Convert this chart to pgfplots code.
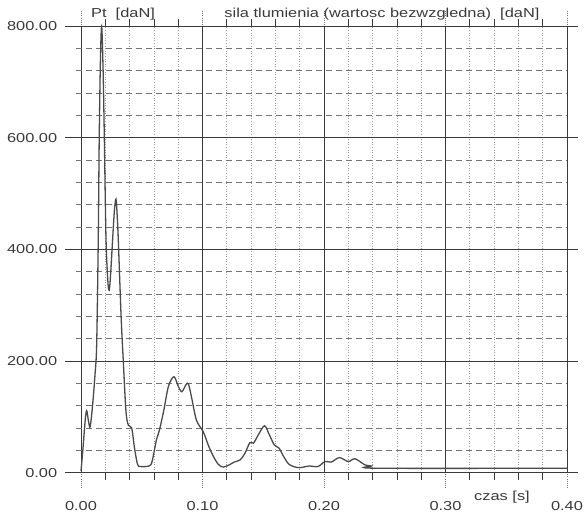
\documentclass[border=0pt]{standalone}
\usepackage{pgfplots}
\pgfplotsset{compat=1.18}
\usepackage{fontspec}
\setmainfont{Liberation Sans}
\newfontfamily\widefont[FakeStretch=1.26]{Liberation Sans}
\definecolor{ink}{HTML}{3A3A3A}
\definecolor{curve}{HTML}{4A4A4A}
\pgfplotstableread{
t v
0 3
0.0015 40
0.0035 95
0.0047 111
0.0062 92
0.0075 82
0.0095 120
0.0115 175
0.0129 230
0.0142 417
0.0150 600
0.0160 740
0.0170 800
0.0182 720
0.0192 600
0.0206 417
0.0222 340
0.0233 327
0.0245 360
0.0260 417
0.0275 470
0.0288 490
0.0298 460
0.0307 417
0.0330 280
0.0348 200
0.0370 110
0.0390 85
0.0417 80
0.0440 45
0.0465 15
0.0490 11
0.0560 12
0.0585 20
0.0620 58
0.0645 76
0.0680 110
0.0720 155
0.0765 172
0.0800 155
0.0830 145
0.0865 158
0.0884 159
0.0910 135
0.0950 94
0.1007 73
0.1050 48
0.1090 29
0.1130 15
0.1170 10
0.1220 14
0.1260 19
0.1310 23
0.1350 35
0.1390 54
0.1420 53
0.1460 68
0.1510 84
0.1550 68
0.1590 50
0.1630 44
0.1665 30
0.1707 16
0.1750 11
0.1800 9
0.1880 12
0.1950 11
0.2008 20
0.2060 19
0.2126 27
0.2200 20
0.2255 25
0.2337 14
0.2390 12
0.2434 8
0.4000 8
}\dataPt
\begin{document}
\begin{tikzpicture}
\path[use as bounding box] (-76pt,-43.3pt) rectangle (508pt,472.7pt);
\begin{axis}[
  scale only axis, width=491pt, height=446.7pt,
  xmin=-0.00412, xmax=0.4, ymin=0, ymax=800,
  axis line style={draw=none},
  xtick={0,0.1,0.2,0.3,0.4}, ytick={0,200,400,600,800},
  minor x tick num=4, minor y tick num=4,
  grid=both,
  major grid style={solid, line width=0.8pt, draw=ink},
  minor grid style={dash pattern=on 6pt off 4pt, line width=0.6pt, draw=black!55},
  minor x grid style={dotted, line width=0.7pt, draw=black!40},
  tick align=outside,
  major x tick style={dotted, line width=0.8pt, draw=black!55, /pgfplots/major tick length=15pt},
  minor x tick style={solid, line width=0.8pt, draw=ink, /pgfplots/minor tick length=7pt},
  major y tick style={solid, line width=0.8pt, draw=ink, /pgfplots/major tick length=11pt},
  minor y tick style={draw=none},
  /pgf/number format/.cd, fixed, fixed zerofill, precision=2, assume math mode=true, /pgfplots/.cd,
  ticklabel style={font=\widefont\fontsize{13}{15}\selectfont, text=ink},
  xticklabel style={anchor=base, yshift=-34pt},
  yticklabel style={anchor=east, xshift=-11pt},
  clip=false,
]
\addplot[curve, line width=1.3pt, smooth, tension=0.5] table[x=t, y=v] {\dataPt};
\node[anchor=base, font=\widefont\fontsize{13}{15}\selectfont, text=ink] at (axis cs:0.0346,816) {Pt\ \ [daN]};
\node[anchor=base, font=\widefont\fontsize{13}{15}\selectfont, text=ink] at (axis cs:0.2477,816) {sila tlumienia (wartosc bezwzgledna)\ \ [daN]};
\node[anchor=base, font=\widefont\fontsize{13}{15}\selectfont, text=ink] at (axis cs:0.3465,-49) {czas [s]};
\end{axis}
\end{tikzpicture}
\end{document}
